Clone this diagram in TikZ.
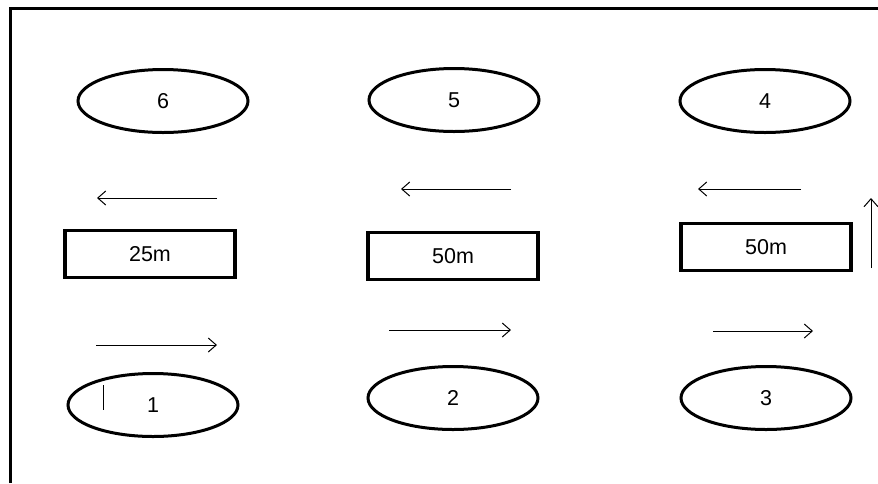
\documentclass[tikz,border=0pt]{standalone}
\usepackage{fontspec}
\setmainfont{Liberation Sans}
\usetikzlibrary{arrows.meta,shapes.geometric}
\begin{document}
\begin{tikzpicture}[x=1pt,y=-1pt,
  font=\fontsize{21.5}{24}\selectfont,
  station/.style={draw,ellipse,line width=3pt,minimum width=170pt,minimum height=63pt,inner sep=0pt},
  pool/.style={draw,rectangle,line width=3.5pt,minimum width=170pt,minimum height=47pt,inner sep=0pt},
  flow/.style={line width=1pt,-{Straight Barb[length=8pt,width=14pt,line width=1pt]}},
  tick/.style={line width=1pt}]
  \useasboundingbox (0,0) rectangle (878,483);
  % open frame: left and top edges only
  \draw[line width=3pt] (10,483) -- (10,8) -- (878,8);

  % stations
  \node[station] (s6) at (163,101) {6};
  \node[station] (s5) at (454,100) {5};
  \node[station] (s4) at (765,101) {4};
  \node[station] (s1) at (153,405) {1};
  \node[station] (s2) at (453,398) {2};
  \node[station] (s3) at (766,398) {3};

  % pools
  \node[pool] (p1) at (150,254) {25m};
  \node[pool] (p2) at (453,256) {50m};
  \node[pool] (p3) at (766,247) {50m};

  % arrow end points
  \coordinate (a1s) at (217,198); \coordinate (a1e) at (97,198);
  \coordinate (a2s) at (511,189); \coordinate (a2e) at (401,189);
  \coordinate (a3s) at (801,189); \coordinate (a3e) at (698,189);
  \coordinate (b1s) at (96,345);  \coordinate (b1e) at (217,345);
  \coordinate (b2s) at (389,330); \coordinate (b2e) at (511,330);
  \coordinate (b3s) at (713,331); \coordinate (b3e) at (813,331);
  \coordinate (vs) at (871,268);  \coordinate (ve) at (871,198);
  \coordinate (t1) at (103,385);  \coordinate (t2) at (103,410);

  \draw[flow] (a1s) -- (a1e);
  \draw[flow] (a2s) -- (a2e);
  \draw[flow] (a3s) -- (a3e);
  \draw[flow] (b1s) -- (b1e);
  \draw[flow] (b2s) -- (b2e);
  \draw[flow] (b3s) -- (b3e);
  \draw[flow] (vs) -- (ve);
  \draw[tick] (t1) -- (t2);
\end{tikzpicture}
\end{document}
